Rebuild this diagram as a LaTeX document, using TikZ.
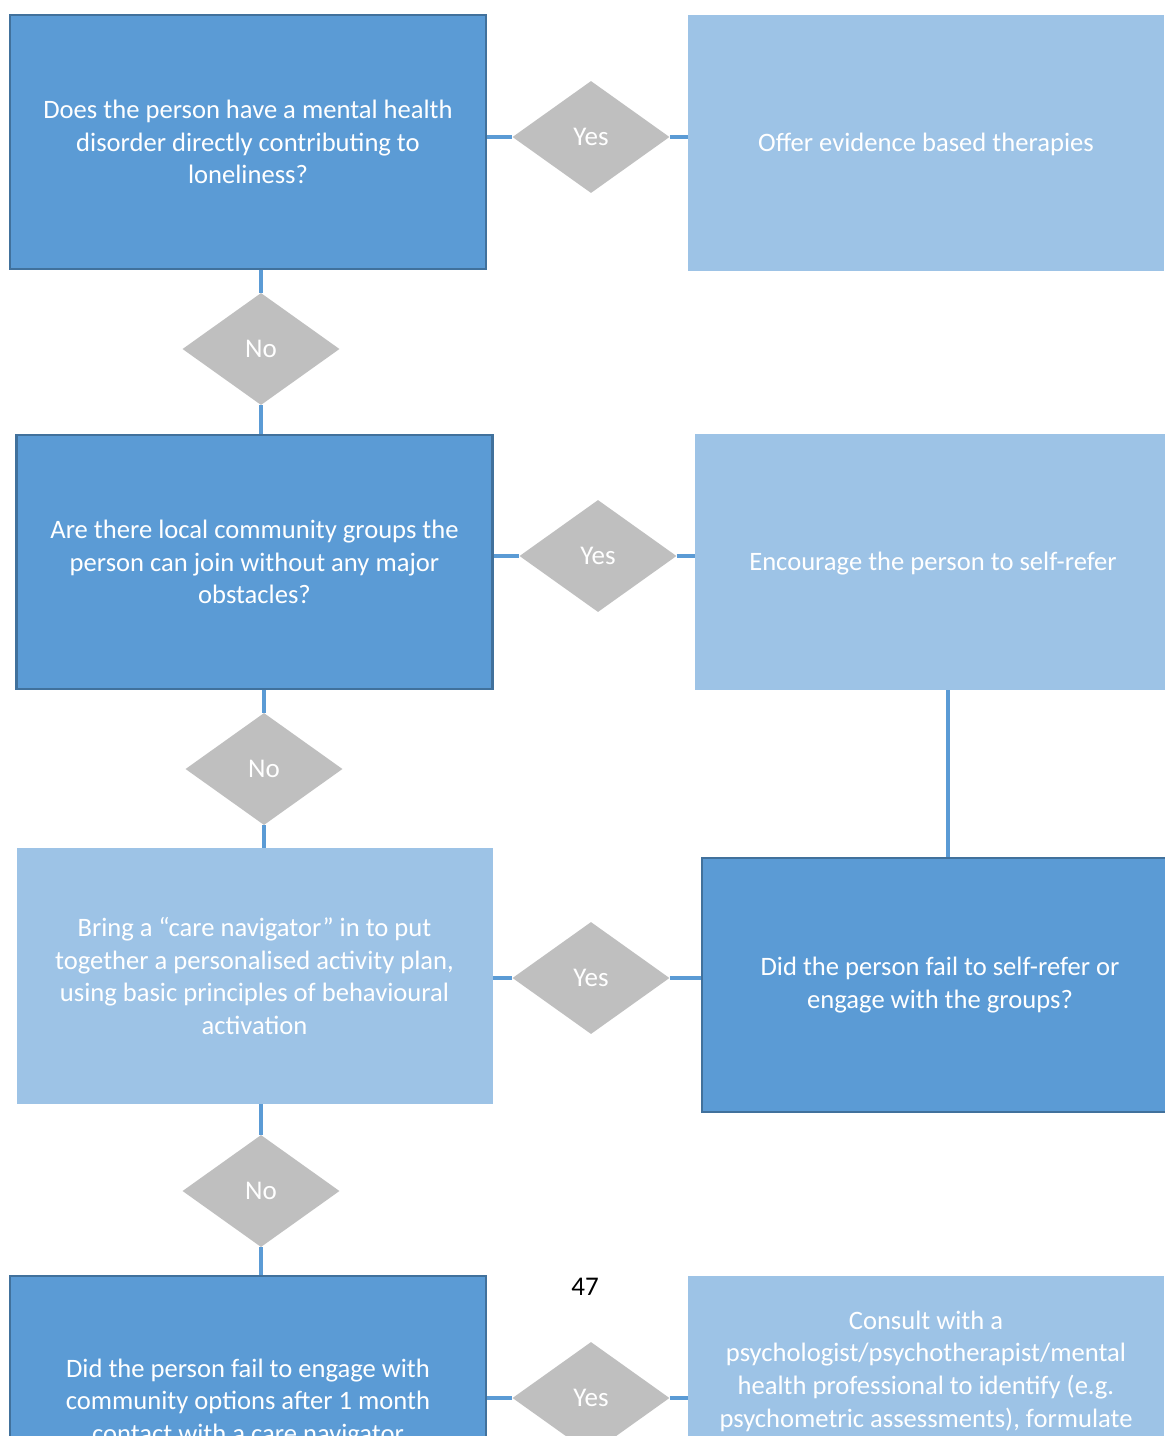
\documentclass[tikz,border=0pt]{standalone}
\usepackage{fontspec}
\setmainfont{Carlito}
\usetikzlibrary{shapes.geometric}
\definecolor{darkfill}{HTML}{5B9BD5}
\definecolor{darkedge}{HTML}{41719C}
\definecolor{lightfill}{HTML}{9DC3E6}
\definecolor{decgray}{HTML}{BFBFBF}
\begin{document}
\begin{tikzpicture}[x=1pt,y=-1pt,
  boxtext/.style={text=white, align=center, inner sep=0pt, font=\fontsize{26.6}{32.6}\selectfont},
  darkbox/.style={boxtext, draw=darkedge, line width=2.5pt, fill=darkfill, minimum width=476pt, minimum height=254pt},
  lightbox/.style={boxtext, fill=lightfill, draw=none, minimum width=476pt, minimum height=256pt},
  decision/.style={diamond, fill=decgray, draw=none, inner sep=0pt, minimum width=157pt, minimum height=112pt, text=white, font=\fontsize{27}{30}\selectfont},
  link/.style={draw=darkfill, line width=4pt}
]
\useasboundingbox (0,0) rectangle (1165,1436);
\clip (0,0) rectangle (1165,1436);
\fill[white] (0,0) rectangle (1165,1436);

% boxes
\node[darkbox] (A) at (248,142) {Does the person have a mental health\\disorder directly contributing to\\loneliness?};
\node[lightbox] (B) at (926,142.5) {};
\node[boxtext] (Btext) at (926,144) {Offer evidence based therapies};
\node[darkbox] (C) at (254.5,562) {Are there local community groups the\\person can join without any major\\obstacles?};
\node[lightbox] (D) at (933,562) {};
\node[boxtext] (Dtext) at (933,564) {Encourage the person to self-refer};
\node[lightbox] (E) at (254.5,976) {Bring a “care navigator” in to put\\together a personalised activity plan,\\using basic principles of behavioural\\activation};
\node[darkbox] (F) at (940,985) {Did the person fail to self-refer or\\engage with the groups?};
\node[darkbox] (G) at (248,1403) {Did the person fail to engage with\\community options after 1 month\\contact with a care navigator};
\node[lightbox] (H) at (926,1404) {};
\node[boxtext] (Htext) at (926,1371) {Consult with a\\psychologist/psychotherapist/mental\\health professional to identify (e.g.\\psychometric assessments), formulate};

% decisions
\node[decision] (Y1) at (591,137) {Yes};
\node[decision] (N1) at (261,349) {No};
\node[decision] (Y2) at (598,556) {Yes};
\node[decision] (N2) at (264,769) {No};
\node[decision] (Y3) at (591,978) {Yes};
\node[decision] (N3) at (261,1191) {No};
\node[decision] (Y4) at (591,1398) {Yes};

% page number
\node[inner sep=0pt, font=\fontsize{27}{30}\selectfont] (pg) at (585,1287) {47};

% connectors
\draw[link] (Y1.west -| A.east) -- (Y1.west);
\draw[link] (Y1.east) -- (Y1.east -| B.west);
\draw[link] (N1.north |- A.south) -- (N1.north);
\draw[link] (N1.south) -- (N1.south |- C.north);
\draw[link] (Y2.west -| C.east) -- (Y2.west);
\draw[link] (Y2.east) -- (Y2.east -| D.west);
\draw[link] (N2.north |- C.south) -- (N2.north);
\draw[link] (N2.south) -- (N2.south |- E.north);
\coordinate (DF) at ([xshift=15pt]D.south);
\draw[link] (DF) -- (DF |- F.north);
\draw[link] (Y3.west -| E.east) -- (Y3.west);
\draw[link] (Y3.east) -- (Y3.east -| F.west);
\draw[link] (N3.north |- E.south) -- (N3.north);
\draw[link] (N3.south) -- (N3.south |- G.north);
\draw[link] (Y4.west -| G.east) -- (Y4.west);
\draw[link] (Y4.east) -- (Y4.east -| H.west);
\end{tikzpicture}
\end{document}
